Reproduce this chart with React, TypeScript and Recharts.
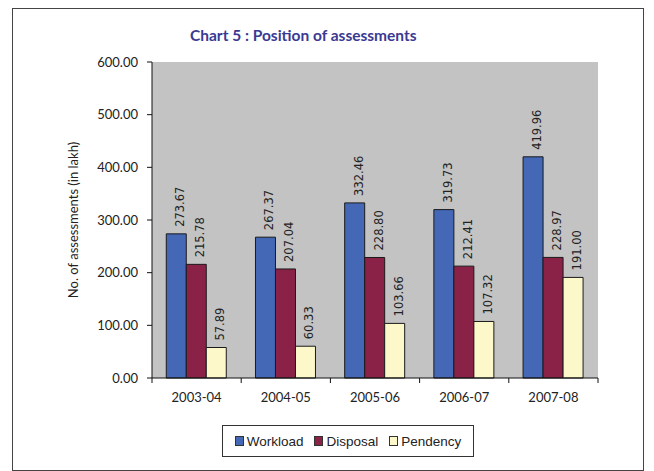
import React from 'react';
import {
  BarChart,
  Bar,
  XAxis,
  YAxis,
  CartesianGrid,
  LabelList,
  Legend,
  Label,
} from 'recharts';

// Assessment position by financial year (figures in lakh)
const years = ['2003-04', '2004-05', '2005-06', '2006-07', '2007-08'];
const workload = [273.67, 267.37, 332.46, 319.73, 419.96];
const disposal = [215.78, 207.04, 228.8, 212.41, 228.97];
const pendency = [57.89, 60.33, 103.66, 107.32, 191.0];
const yTicks = [0, 100, 200, 300, 400, 500, 600];

const rows = years.map((year, i) => ({
  year,
  Workload: workload[i],
  Disposal: disposal[i],
  Pendency: pendency[i],
}));

const series = [
  { key: 'Workload', color: '#4468B6' },
  { key: 'Disposal', color: '#8A2248' },
  { key: 'Pendency', color: '#FCF8CA' },
];

const CHART_W = 654;
const MARGIN = { top: 62, right: 56, left: 0, bottom: 31 };
const Y_AXIS_W = 152;
const BAND = (CHART_W - MARGIN.right - MARGIN.left - Y_AXIS_W) / years.length;

const axisFont = { fontFamily: 'Lato', fontSize: 13, fill: '#222' };

// Category tick: label under the group, with tick marks on the band boundaries
const YearTick = (props: any) => {
  const { x, y, payload, index } = props;
  const axisY = Number(y) - 15;
  const right = Number(x) + BAND / 2;
  const left = Number(x) - BAND / 2;
  return (
    <g>
      {index === 0 && <line x1={left} x2={left} y1={axisY} y2={axisY + 5} stroke="#111" />}
      <line x1={right} x2={right} y1={axisY} y2={axisY + 5} stroke="#111" />
      <text x={x} y={y} dy="0.71em" textAnchor="middle" {...axisFont}>
        {payload.value}
      </text>
    </g>
  );
};

const ValueLabel = (props: any) => {
  const { x, y, width, value } = props;
  const cx = Number(x) + Number(width) / 2 + 4;
  const ty = Number(y) - 7;
  return (
    <text
      x={cx}
      y={ty}
      transform={`rotate(-90, ${cx}, ${ty})`}
      textAnchor="start"
      dominantBaseline="central"
      fontFamily="DejaVu Sans"
      fontSize={11.5}
      fill="#222"
    >
      {Number(value).toFixed(2)}
    </text>
  );
};

const LegendBox = () => (
  <div
    style={{
      boxSizing: 'border-box',
      width: 252,
      height: 32,
      border: '1.5px solid #333',
      display: 'flex',
      alignItems: 'center',
      justifyContent: 'center',
      gap: 11,
      fontFamily: 'Liberation Sans',
      fontSize: 13.5,
      color: '#222',
      background: '#fff',
    }}
  >
    {series.map((s) => (
      <span key={s.key} style={{ display: 'flex', alignItems: 'center' }}>
        <span
          style={{
            display: 'inline-block',
            width: 7,
            height: 8,
            background: s.color,
            border: '1px solid #333',
            marginRight: 3,
          }}
        />
        {s.key}
      </span>
    ))}
  </div>
);

export default function App() {
  return (
    <div style={{ position: 'absolute', left: 0, top: 0, width: 654, height: 471, background: '#fff' }}>
      <div
        style={{
          position: 'absolute',
          left: 12,
          top: 8,
          width: 630,
          height: 461,
          border: '1.5px solid #444',
        }}
      />
      <div
        style={{
          position: 'absolute',
          left: 190,
          top: 26,
          fontFamily: 'Lato',
          fontWeight: 700,
          fontSize: 15.5,
          color: '#3A3A92',
          whiteSpace: 'nowrap',
        }}
      >
        Chart 5 : Position of assessments
      </div>
      <div style={{ position: 'absolute', left: 0, top: 0 }}>
        <BarChart
          width={CHART_W}
          height={471}
          data={rows}
          margin={MARGIN}
          barCategoryGap="16%"
          barGap={0}
        >
          <CartesianGrid fill="#C3C3C3" horizontal={false} vertical={false} />
          <XAxis
            xAxisId="top"
            dataKey="year"
            orientation="top"
            height={0}
            tick={false}
            tickLine={false}
            axisLine={{ stroke: '#222', strokeWidth: 1.2 }}
          />
          <XAxis
            xAxisId="cat"
            dataKey="year"
            height={30}
            axisLine={{ stroke: '#111' }}
            tickLine={false}
            tickSize={5}
            tickMargin={10}
            tick={YearTick}
          />
          <YAxis
            width={Y_AXIS_W}
            domain={[0, 600]}
            ticks={yTicks}
            interval={0}
            axisLine={{ stroke: '#111' }}
            tickLine={{ stroke: '#111' }}
            tickSize={5}
            tickMargin={9}
            tick={axisFont}
            tickFormatter={(v: number) => v.toFixed(2)}
          >
            <Label
              value="No. of assessments (in lakh)"
              angle={-90}
              position="center"
              dx={-3}
              style={{ fontFamily: 'Lato', fontSize: 13, fill: '#222' }}
            />
          </YAxis>
          <YAxis
            yAxisId="right"
            orientation="right"
            width={0}
            domain={[0, 600]}
            tick={false}
            tickLine={false}
            axisLine={{ stroke: '#333', strokeWidth: 1.2 }}
          />
          {series.map((s) => (
            <Bar
              key={s.key}
              xAxisId="cat"
              dataKey={s.key}
              fill={s.color}
              stroke="#1a1a1a"
              strokeWidth={1}
              isAnimationActive={false}
            >
              <LabelList dataKey={s.key} content={ValueLabel} />
            </Bar>
          ))}
          <Legend
            content={LegendBox}
            wrapperStyle={{ position: 'absolute', left: 222, top: 425, width: 252, height: 32 }}
          />
        </BarChart>
      </div>
    </div>
  );
}
